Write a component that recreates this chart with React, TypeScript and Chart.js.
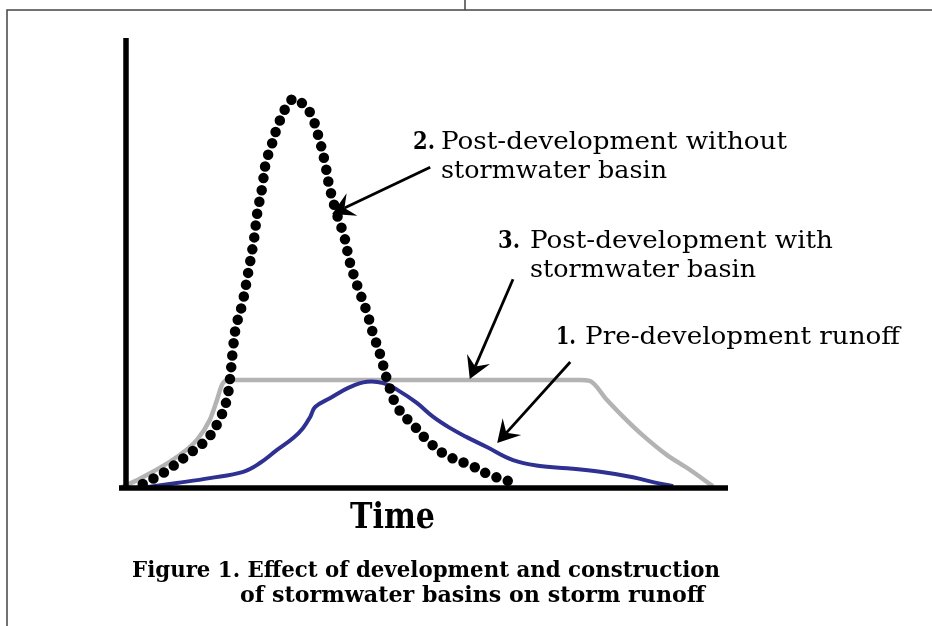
import React, { useEffect, useRef } from "react";
import { Chart, registerables } from "chart.js";

Chart.register(...registerables);

// Time axis (0-100) and discharge axis (0-100), arbitrary units
const postNoBasinX = [3.9, 7.2, 11.7, 14.5, 16.3, 17.6, 18.2, 18.7, 19.2, 20.2, 21.2, 22.2, 22.7, 23.5, 24.1, 25.1, 26.3, 28.1, 29.1, 30.2, 31.5, 32.7, 33.8, 34.5, 35.6, 37.0, 37.9, 39.2, 40.7, 41.7, 42.9, 44.2, 45.8, 48.6, 51.1, 54.0, 58.0, 60.9, 65.5];
const postNoBasinY = [0.9, 3.3, 7.8, 10.9, 14.7, 19.1, 24.0, 30.7, 35.8, 40.7, 47.8, 55.6, 61.1, 66.7, 72.2, 76.4, 81.3, 86.0, 86.4, 85.3, 83.1, 78.4, 72.4, 67.3, 61.6, 55.8, 50.2, 44.7, 39.1, 34.4, 29.6, 23.3, 17.8, 13.6, 10.0, 7.1, 4.9, 2.9, 0.9];

const postBasinX = [0.2, 3.9, 9.5, 12.8, 14.9, 16.1, 16.9, 17.9, 75.7, 77.3, 80.1, 82.8, 85.6, 90.0, 93.8, 97.5];
const postBasinY = [0.0, 2.4, 6.9, 10.7, 15.1, 19.6, 22.9, 24.0, 24.0, 23.8, 19.6, 15.8, 12.2, 7.3, 4.0, 0.4];

const preDevX = [4.8, 9.5, 14.9, 20.4, 23.2, 25.9, 28.6, 30.2, 31.4, 32.2, 34.7, 37.9, 40.7, 43.4, 45.7, 48.9, 51.6, 54.4, 57.1, 60.4, 64.7, 69.1, 73.6, 79.0, 84.4, 87.7, 91.0];
const preDevY = [0.2, 1.1, 2.2, 3.6, 5.6, 8.4, 11.1, 13.3, 15.8, 18.0, 20.0, 22.4, 23.6, 23.3, 21.8, 18.9, 15.8, 13.3, 11.3, 9.1, 6.2, 4.9, 4.4, 3.6, 2.4, 1.3, 0.4];

// Callout arrows: [startX, startY, tipX, tipY] in data units
const arrow2 = [51.1, 71.3, 35.0, 60.9];
const arrow3 = [64.7, 46.4, 57.6, 24.2];
const arrow1 = [74.1, 28.0, 62.1, 10.0];

const label2 = ["2.", "Post-development without", "stormwater basin"];
const label3 = ["3.", "Post-development with", "stormwater basin"];
const label1 = ["1.", "Pre-development runoff"];
const xTitle = "Time";
const caption = ["Figure 1. Effect of development and construction", "of stormwater basins on storm runoff"];

const toPoints = (xs: number[], ys: number[]) => xs.map((x, i) => ({ x, y: ys[i] }));

function fitText(ctx: CanvasRenderingContext2D, text: string, x: number, y: number, font: string, width: number) {
  ctx.font = font;
  const w = ctx.measureText(text).width;
  ctx.save();
  ctx.translate(x, y);
  ctx.scale(width / w, 1);
  ctx.fillText(text, 0, 0);
  ctx.restore();
}

function drawArrow(ctx: CanvasRenderingContext2D, x0: number, y0: number, x1: number, y1: number) {
  const dx = x1 - x0, dy = y1 - y0;
  const len = Math.hypot(dx, dy);
  const ux = dx / len, uy = dy / len;
  const nx = -uy, ny = ux;
  const L = 22, W = 25, notch = 0.62;
  ctx.save();
  ctx.strokeStyle = "#000";
  ctx.fillStyle = "#000";
  ctx.lineWidth = 2.8;
  ctx.beginPath();
  ctx.moveTo(x0, y0);
  ctx.lineTo(x1 - ux * L * notch, y1 - uy * L * notch);
  ctx.stroke();
  ctx.beginPath();
  ctx.moveTo(x1, y1);
  ctx.lineTo(x1 - ux * L + nx * W / 2, y1 - uy * L + ny * W / 2);
  ctx.lineTo(x1 - ux * L * notch, y1 - uy * L * notch);
  ctx.lineTo(x1 - ux * L - nx * W / 2, y1 - uy * L - ny * W / 2);
  ctx.closePath();
  ctx.fill();
  ctx.restore();
}

const decorPlugin = {
  id: "decor",
  beforeDraw(chart: any) {
    const ctx: CanvasRenderingContext2D = chart.ctx;
    ctx.save();
    ctx.fillStyle = "#fff";
    ctx.fillRect(0, 0, chart.width, chart.height);
    // page frame
    ctx.strokeStyle = "#444";
    ctx.lineWidth = 1.5;
    ctx.beginPath();
    ctx.moveTo(7, chart.height);
    ctx.lineTo(7, 10);
    ctx.lineTo(chart.width, 10);
    ctx.moveTo(465, 0);
    ctx.lineTo(465, 10);
    ctx.stroke();
    ctx.restore();
  },
  afterDraw(chart: any) {
    const ctx: CanvasRenderingContext2D = chart.ctx;
    const xs = chart.scales.x, ys = chart.scales.y;
    const px = (v: number) => xs.getPixelForValue(v);
    const py = (v: number) => ys.getPixelForValue(v);
    ctx.save();
    // axes
    ctx.strokeStyle = "#000";
    ctx.lineWidth = 5.5;
    ctx.beginPath();
    ctx.moveTo(px(1.15), py(100));
    ctx.lineTo(px(1.15), py(-0.4));
    ctx.moveTo(px(0), py(0));
    ctx.lineTo(px(100), py(0));
    ctx.stroke();

    // arrows
    for (const a of [arrow2, arrow3, arrow1]) {
      drawArrow(ctx, px(a[0]), py(a[1]), px(a[2]), py(a[3]));
    }

    // labels
    ctx.fillStyle = "#000";
    ctx.textBaseline = "alphabetic";
    const reg = "25px 'DejaVu Serif'";
    const bold = "bold 25px 'DejaVu Serif'";
    fitText(ctx, label2[0], 413, 149, bold, 22);
    fitText(ctx, label2[1], 441, 149, reg, 346);
    fitText(ctx, label2[2], 441, 178, reg, 226);
    fitText(ctx, label3[0], 498, 248, bold, 22);
    fitText(ctx, label3[1], 530, 248, reg, 303);
    fitText(ctx, label3[2], 530, 277, reg, 226);
    fitText(ctx, label1[0], 556, 344, bold, 20);
    fitText(ctx, label1[1], 585, 344, reg, 315);

    fitText(ctx, xTitle, 350, 528, "bold 35px 'DejaVu Serif'", 85);
    fitText(ctx, caption[0], 132, 577, "bold 23px 'DejaVu Serif'", 588);
    fitText(ctx, caption[1], 240, 602, "bold 23px 'DejaVu Serif'", 465);
    ctx.restore();
  },
};

export default function App() {
  const ref = useRef<HTMLCanvasElement | null>(null);
  useEffect(() => {
    if (!ref.current) return;
    const chart = new Chart(ref.current, {
      type: "line",
      data: {
        datasets: [
          {
            label: "Post-development without stormwater basin",
            data: toPoints(postNoBasinX, postNoBasinY),
            borderColor: "#000",
            borderWidth: 10.5,
            borderDash: [0, 12],
            borderCapStyle: "round",
            tension: 0.4,
            pointRadius: 0,
          },
          {
            label: "Pre-development runoff",
            data: toPoints(preDevX, preDevY),
            borderColor: "#2e3192",
            borderWidth: 4,
            tension: 0.4,
            pointRadius: 0,
          },
          {
            label: "Post-development with stormwater basin",
            data: toPoints(postBasinX, postBasinY),
            borderColor: "#b3b3b3",
            borderWidth: 4.5,
            cubicInterpolationMode: "monotone",
            pointRadius: 0,
          },
        ],
      },
      options: {
        responsive: false,
        animation: false,
        devicePixelRatio: 1,
        layout: { padding: { left: 119, right: 204, top: 38, bottom: 138 } },
        scales: {
          x: { type: "linear", min: 0, max: 100, display: false },
          y: { type: "linear", min: 0, max: 100, display: false },
        },
        plugins: { legend: { display: false }, tooltip: { enabled: false } },
        events: [],
      },
      plugins: [decorPlugin],
    } as any);
    return () => chart.destroy();
  }, []);
  return (
    <div style={{ position: "absolute", left: 0, top: 0, width: 932, height: 626 }}>
      <canvas ref={ref} width={932} height={626} style={{ display: "block" }} />
    </div>
  );
}
